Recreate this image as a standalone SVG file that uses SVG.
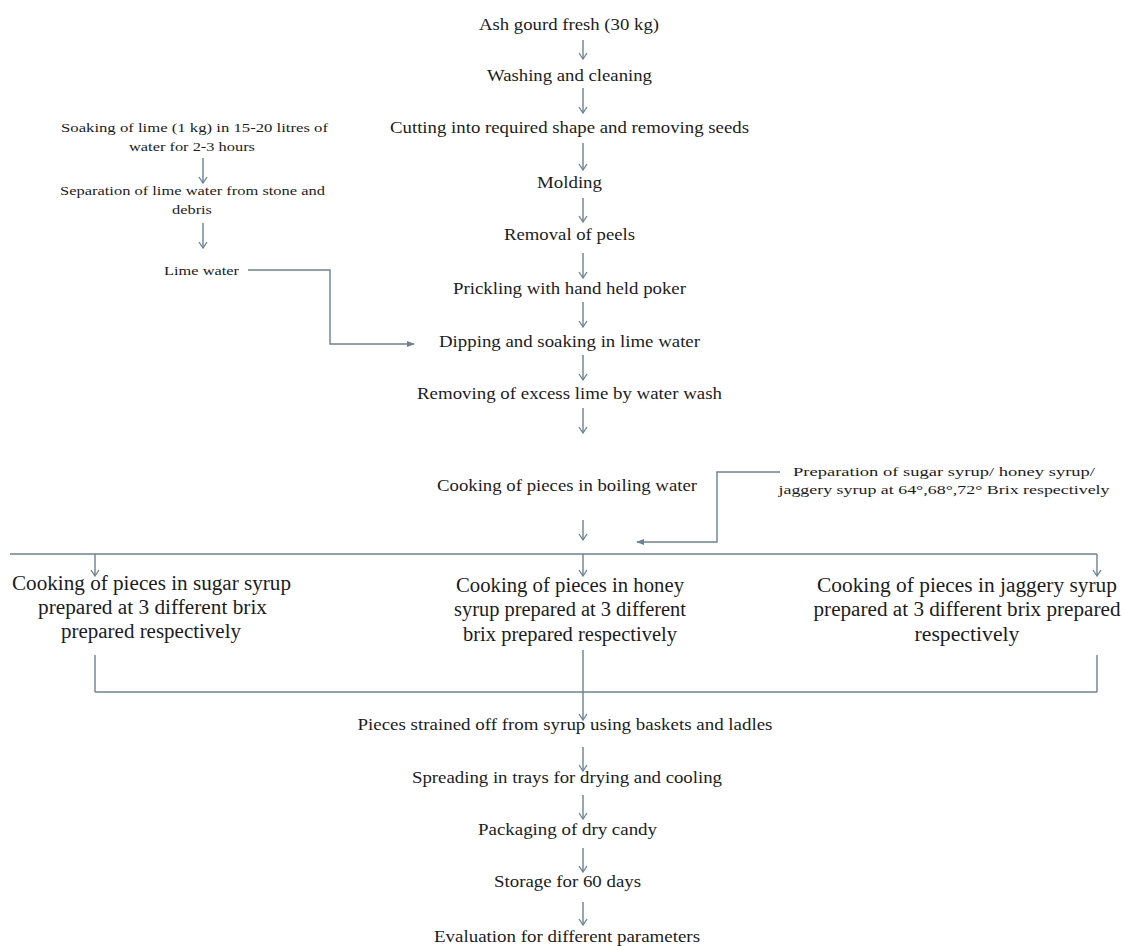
<svg xmlns="http://www.w3.org/2000/svg" width="1124" height="946" viewBox="0 0 1124 946">
<style>
text{font-family:"Liberation Serif","Times New Roman",serif;fill:#1c1c1c;text-anchor:middle}
.m{font-size:17.5px}
.s{font-size:16px}
.x{font-size:13.5px}
.b{font-size:20.5px}
.c{stroke:#6a8293;stroke-width:1.4;fill:none}
</style>
<defs>
<marker id="v" viewBox="0 0 10 10" refX="9" refY="5" markerWidth="10" markerHeight="10" markerUnits="userSpaceOnUse" orient="auto">
<path d="M3,1 L9,5 L3,9" fill="none" stroke="#6a8293" stroke-width="1.3"/>
</marker>
<marker id="t" viewBox="0 0 10 10" refX="9" refY="5" markerWidth="8" markerHeight="8" markerUnits="userSpaceOnUse" orient="auto">
<path d="M0,1 L10,5 L0,9 Z" fill="#6a8293"/>
</marker>
</defs>
<rect width="1124" height="946" fill="#ffffff"/>
<g id="connectors">
<line class="c" x1="583" y1="40" x2="583" y2="59" marker-end="url(#v)"/>
<line class="c" x1="583" y1="88" x2="583" y2="113" marker-end="url(#v)"/>
<line class="c" x1="583" y1="143" x2="583" y2="170" marker-end="url(#v)"/>
<line class="c" x1="583" y1="198" x2="583" y2="222" marker-end="url(#v)"/>
<line class="c" x1="583" y1="253" x2="583" y2="278" marker-end="url(#v)"/>
<line class="c" x1="583" y1="302" x2="583" y2="327" marker-end="url(#v)"/>
<line class="c" x1="583" y1="355" x2="583" y2="380" marker-end="url(#v)"/>
<line class="c" x1="583" y1="408" x2="583" y2="433" marker-end="url(#v)"/>
<line class="c" x1="583" y1="520" x2="583" y2="540" marker-end="url(#v)"/>
<line class="c" x1="203" y1="158" x2="203" y2="183" marker-end="url(#v)"/>
<line class="c" x1="203" y1="223" x2="203" y2="248" marker-end="url(#v)"/>
<polyline class="c" points="248,270 330,270 330,344 414,344" marker-end="url(#t)"/>
<polyline class="c" points="780,472 717,472 717,542 637,542" marker-end="url(#t)"/>
<line class="c" x1="10" y1="554" x2="1097" y2="554"/>
<line class="c" x1="95" y1="554" x2="95" y2="576" marker-end="url(#v)"/>
<line class="c" x1="583" y1="554" x2="583" y2="576" marker-end="url(#v)"/>
<line class="c" x1="1097" y1="554" x2="1097" y2="576" marker-end="url(#v)"/>
<line class="c" x1="95" y1="655" x2="95" y2="692"/>
<line class="c" x1="583" y1="650" x2="583" y2="692"/>
<line class="c" x1="1097" y1="655" x2="1097" y2="692"/>
<line class="c" x1="95" y1="692" x2="1097" y2="692"/>
<line class="c" x1="583" y1="692" x2="583" y2="720" marker-end="url(#v)"/>
<line class="c" x1="583" y1="747" x2="583" y2="771" marker-end="url(#v)"/>
<line class="c" x1="583" y1="795" x2="583" y2="819" marker-end="url(#v)"/>
<line class="c" x1="583" y1="848" x2="583" y2="872" marker-end="url(#v)"/>
<line class="c" x1="583" y1="902" x2="583" y2="925" marker-end="url(#v)"/>
</g>
<g id="n1"><text class="m" x="569" y="30" textLength="180" lengthAdjust="spacingAndGlyphs">Ash gourd fresh (30 kg)</text></g>
<g id="n2"><text class="m" x="569.5" y="81" textLength="165" lengthAdjust="spacingAndGlyphs">Washing and cleaning</text></g>
<g id="n3"><text class="m" x="569.5" y="133" textLength="359" lengthAdjust="spacingAndGlyphs">Cutting into required shape and removing seeds</text></g>
<g id="n4"><text class="m" x="569.5" y="188" textLength="65" lengthAdjust="spacingAndGlyphs">Molding</text></g>
<g id="n5"><text class="m" x="569.5" y="240" textLength="131" lengthAdjust="spacingAndGlyphs">Removal of peels</text></g>
<g id="n6"><text class="m" x="569.5" y="294" textLength="233" lengthAdjust="spacingAndGlyphs">Prickling with hand held poker</text></g>
<g id="n7"><text class="m" x="569.5" y="347" textLength="261" lengthAdjust="spacingAndGlyphs">Dipping and soaking in lime water</text></g>
<g id="n8"><text class="m" x="569.5" y="399" textLength="305" lengthAdjust="spacingAndGlyphs">Removing of excess lime by water wash</text></g>
<g id="n9"><text class="m" x="567" y="491" textLength="260" lengthAdjust="spacingAndGlyphs">Cooking of pieces in boiling water</text></g>
<g id="l1"><text class="x" x="194.5" y="132" textLength="267" lengthAdjust="spacingAndGlyphs">Soaking of lime (1 kg) in 15-20 litres of</text><text class="x" x="192" y="151" textLength="126" lengthAdjust="spacingAndGlyphs">water for 2-3 hours</text></g>
<g id="l2"><text class="x" x="192.5" y="195" textLength="265" lengthAdjust="spacingAndGlyphs">Separation of lime water from stone and</text><text class="x" x="192" y="214" textLength="40" lengthAdjust="spacingAndGlyphs">debris</text></g>
<g id="l3"><text class="x" x="201.5" y="275" textLength="75" lengthAdjust="spacingAndGlyphs">Lime water</text></g>
<g id="prep"><text class="x" x="944" y="476" textLength="302" lengthAdjust="spacingAndGlyphs">Preparation of sugar syrup/ honey syrup/</text><text class="x" x="944" y="494" textLength="331" lengthAdjust="spacingAndGlyphs">jaggery syrup at 64°,68°,72° Brix respectively</text></g>
<g id="sugar"><text class="b" x="151.5" y="590" textLength="279" lengthAdjust="spacingAndGlyphs">Cooking of pieces in sugar syrup</text><text class="b" x="152.5" y="614" textLength="229" lengthAdjust="spacingAndGlyphs">prepared at 3 different brix</text><text class="b" x="151" y="638" textLength="180" lengthAdjust="spacingAndGlyphs">prepared respectively</text></g>
<g id="honey"><text class="b" x="570" y="592" textLength="228" lengthAdjust="spacingAndGlyphs">Cooking of pieces in honey</text><text class="b" x="570" y="616" textLength="232" lengthAdjust="spacingAndGlyphs">syrup prepared at 3 different</text><text class="b" x="570" y="641" textLength="214" lengthAdjust="spacingAndGlyphs">brix prepared respectively</text></g>
<g id="jaggery"><text class="b" x="967" y="592" textLength="300" lengthAdjust="spacingAndGlyphs">Cooking of pieces in jaggery syrup</text><text class="b" x="967" y="616" textLength="307" lengthAdjust="spacingAndGlyphs">prepared at 3 different brix prepared</text><text class="b" x="967" y="641" textLength="105" lengthAdjust="spacingAndGlyphs">respectively</text></g>
<g id="n10"><text class="s" x="565" y="730" textLength="415" lengthAdjust="spacingAndGlyphs">Pieces strained off from syrup using baskets and ladles</text></g>
<g id="n11"><text class="s" x="567" y="783" textLength="310" lengthAdjust="spacingAndGlyphs">Spreading in trays for drying and cooling</text></g>
<g id="n12"><text class="s" x="567.5" y="835" textLength="179" lengthAdjust="spacingAndGlyphs">Packaging of dry candy</text></g>
<g id="n13"><text class="s" x="567.5" y="887" textLength="147" lengthAdjust="spacingAndGlyphs">Storage for 60 days</text></g>
<g id="n14"><text class="s" x="567" y="942" textLength="266" lengthAdjust="spacingAndGlyphs">Evaluation for different parameters</text></g>
</svg>
